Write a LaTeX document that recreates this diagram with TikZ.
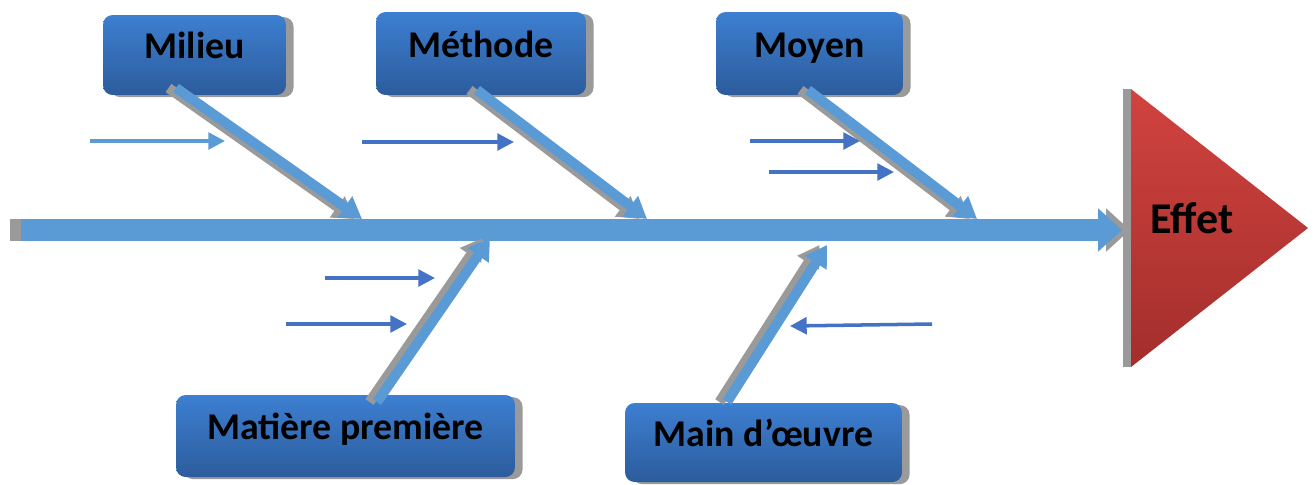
\documentclass[tikz,border=0pt]{standalone}
\usepackage{fontspec}
\setmainfont{Carlito}
\usetikzlibrary{arrows.meta,shadows}
\definecolor{boxtop}{HTML}{3D7FD1}
\definecolor{boxbot}{HTML}{2C5C9C}
\definecolor{bone}{HTML}{5B9BD5}
\definecolor{smallblue}{HTML}{4472C4}
\definecolor{shadowgray}{HTML}{9A9A9A}
\definecolor{redtop}{HTML}{D1433F}
\definecolor{redbot}{HTML}{A32E2C}
\tikzset{
  cause/.style={rounded corners=5.5pt, top color=boxtop, bottom color=boxbot,
    draw=none, font=\fontsize{21.5}{25}\selectfont\bfseries, text=black, inner sep=0pt,
    text height=0.75em, text depth=0.35em,
    drop shadow={shadow xshift=4.3pt, shadow yshift=-1.2pt, fill=shadowgray, opacity=1}},
  spine/.style={line width=13pt, draw=bone, -{Triangle[length=13.6pt,width=23.8pt]}},
  spineshadow/.style={spine, draw=shadowgray},
  bonearrow/.style={line width=5.7pt, draw=bone, -{Triangle[length=12pt,width=14pt]}},
  boneshadow/.style={bonearrow, draw=shadowgray},
  subcause/.style={line width=2pt, draw=smallblue, -{Triangle[length=9.5pt,width=9.5pt]}},
  subcauselight/.style={subcause, draw=bone},
}
\begin{document}
\begin{tikzpicture}[x=0.02cm, y=-0.02cm]
\useasboundingbox (0,0) rectangle (1314,484);

% boxes
\node[cause, minimum width=3.66cm, minimum height=1.6cm] (milieu) at (194.5,55) {Milieu};
\node[cause, minimum width=4.2cm, minimum height=1.66cm] (methode) at (481,53.5) {Méthode};
\node[cause, minimum width=3.74cm, minimum height=1.66cm] (moyen) at (809.5,53.5) {Moyen};
\node[cause, minimum width=6.78cm, minimum height=1.64cm] (matiere) at (345.5,436) {Matière première};
\node[cause, minimum width=5.54cm, minimum height=1.58cm] (main) at (763.5,442.5) {Main d’œuvre};

% effect triangle
\fill[shadowgray] (1123,89) rectangle (1131,367);
\shade[top color=redtop, bottom color=redbot] (1131,89) -- (1308,228) -- (1131,367) -- cycle;
\node[font=\fontsize{25}{29}\selectfont\bfseries, text=black] (effet) at (1192,218) {Effet};

% spine
\coordinate (spineS) at (10,230);
\coordinate (spineE) at (1130,230);
\coordinate (spineS2) at (21,230);
\coordinate (spineE2) at (1122,230);
\draw[spineshadow] (spineS) -- (spineE);
\draw[spine] (spineS2) -- (spineE2);

% branch coordinates
\coordinate (mil0) at (176,88);   \coordinate (mil1) at (362,219);
\coordinate (met0) at (477,90);   \coordinate (met1) at (647,219);
\coordinate (moy0) at (808,90);   \coordinate (moy1) at (977,219);
\coordinate (mat0) at (377,402);  \coordinate (mat1) at (490,238);
\coordinate (mai0) at (727,402);  \coordinate (mai1) at (827,245);

% branch shadows
\begin{scope}[transform canvas={xshift=-0.15cm}]
\draw[boneshadow] (mil0) -- (mil1);
\draw[boneshadow] (met0) -- (met1);
\draw[boneshadow] (moy0) -- (moy1);
\draw[boneshadow] (mat0) -- (mat1);
\draw[boneshadow] (mai0) -- (mai1);
\end{scope}
% branches
\draw[bonearrow] (mil0) -- (mil1);
\draw[bonearrow] (met0) -- (met1);
\draw[bonearrow] (moy0) -- (moy1);
\draw[bonearrow] (mat0) -- (mat1);
\draw[bonearrow] (mai0) -- (mai1);

% sub-cause arrows
\coordinate (s1a) at (90,141);  \coordinate (s1b) at (225,141);
\coordinate (s2a) at (362,142); \coordinate (s2b) at (514,142);
\coordinate (s3a) at (750,141); \coordinate (s3b) at (860,141);
\coordinate (s4a) at (769,172); \coordinate (s4b) at (894,172);
\coordinate (s5a) at (325,278); \coordinate (s5b) at (435,278);
\coordinate (s6a) at (286,324); \coordinate (s6b) at (407,324);
\coordinate (s7a) at (932,324); \coordinate (s7b) at (790,326);
\draw[subcauselight] (s1a) -- (s1b);
\draw[subcause] (s2a) -- (s2b);
\draw[subcause] (s3a) -- (s3b);
\draw[subcause] (s4a) -- (s4b);
\draw[subcause] (s5a) -- (s5b);
\draw[subcause] (s6a) -- (s6b);
\draw[subcause] (s7a) -- (s7b);
\end{tikzpicture}
\end{document}
